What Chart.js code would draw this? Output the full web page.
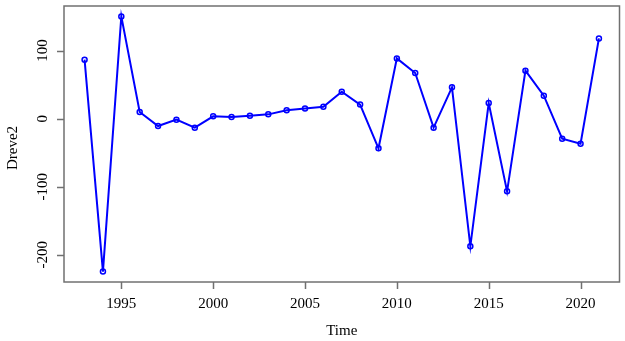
<!DOCTYPE html>
<html>
<head>
<meta charset="utf-8">
<script src="https://cdn.jsdelivr.net/npm/chart.js@4/dist/chart.umd.min.js"></script>
<style>
  html, body { margin: 0; padding: 0; background: #fff; }
  #wrap { width: 625px; height: 341px; }
</style>
</head>
<body>
<div id="wrap"><canvas id="c" width="625" height="341"></canvas></div>
<script>
const years = [1993,1994,1995,1996,1997,1998,1999,2000,2001,2002,2003,2004,2005,2006,2007,2008,2009,2010,2011,2012,2013,2014,2015,2016,2017,2018,2019,2020,2021];
const dreve2 = [86.6,-224.7,150.2,9.7,-10.9,-1.5,-13.2,3.4,2.4,4.4,6.3,12.2,15.0,17.6,39.6,20.6,-43.6,88.5,67.0,-13.2,46.0,-187.5,22.9,-106.8,70.5,33.8,-29.4,-36.7,117.9];
const xTicks = [1995,2000,2005,2010,2015,2020];
const yTicks = [-200,-100,0,100];
const xTitle = "Time";
const yTitle = "Dreve2";

const FONT = '15px "Liberation Serif", "Times New Roman", serif';
const AXIS_COLOR = '#707070';

const rAxes = {
  id: 'rAxes',
  afterDraw(chart) {
    const ctx = chart.ctx;
    const a = chart.chartArea;
    const xs = chart.scales.x, ys = chart.scales.y;
    ctx.save();
    ctx.strokeStyle = AXIS_COLOR;
    ctx.lineWidth = 1.5;
    // box
    ctx.strokeRect(a.left, a.top, a.right - a.left, a.bottom - a.top);
    // x ticks
    ctx.fillStyle = '#000';
    ctx.font = FONT;
    ctx.textAlign = 'center';
    ctx.textBaseline = 'middle';
    ctx.beginPath();
    xTicks.forEach(v => {
      const px = Math.round(xs.getPixelForValue(v)) + 0.5;
      ctx.moveTo(px, a.bottom);
      ctx.lineTo(px, a.bottom + 7);
    });
    ctx.stroke();
    xTicks.forEach(v => {
      ctx.fillText(String(v), xs.getPixelForValue(v), a.bottom + 22);
    });
    // y ticks
    ctx.beginPath();
    yTicks.forEach(v => {
      const py = Math.round(ys.getPixelForValue(v)) + 0.5;
      ctx.moveTo(a.left, py);
      ctx.lineTo(a.left - 7, py);
    });
    ctx.stroke();
    yTicks.forEach(v => {
      const py = ys.getPixelForValue(v);
      ctx.save();
      ctx.translate(a.left - 21, py);
      ctx.rotate(-Math.PI / 2);
      ctx.fillText(String(v), 0, 0);
      ctx.restore();
    });
    // titles
    ctx.fillText(xTitle, (a.left + a.right) / 2, 331);
    ctx.save();
    ctx.translate(13, (a.top + a.bottom) / 2 + 4);
    ctx.rotate(-Math.PI / 2);
    ctx.fillText(yTitle, 0, 0);
    ctx.restore();
    ctx.restore();
  }
};

new Chart(document.getElementById('c'), {
  type: 'line',
  data: {
    datasets: [{
      data: years.map((y, i) => ({ x: y, y: dreve2[i] })),
      borderColor: '#0000FF',
      backgroundColor: 'rgba(0,0,0,0)',
      borderWidth: 2,
      pointRadius: 2.5,
      pointBorderWidth: 1.5,
      pointBorderColor: '#0000FF',
      pointBackgroundColor: 'rgba(0,0,0,0)',
      tension: 0,
      fill: false
    }]
  },
  options: {
    responsive: false,
    animation: false,
    devicePixelRatio: 1,
    layout: { padding: { left: 64, top: 6, right: 5, bottom: 59 } },
    plugins: { legend: { display: false }, tooltip: { enabled: false } },
    scales: {
      x: { type: 'linear', min: 1991.88, max: 2022.12, display: false },
      y: { type: 'linear', min: -240, max: 165.5, display: false }
    }
  },
  plugins: [rAxes]
});
</script>
</body>
</html>
